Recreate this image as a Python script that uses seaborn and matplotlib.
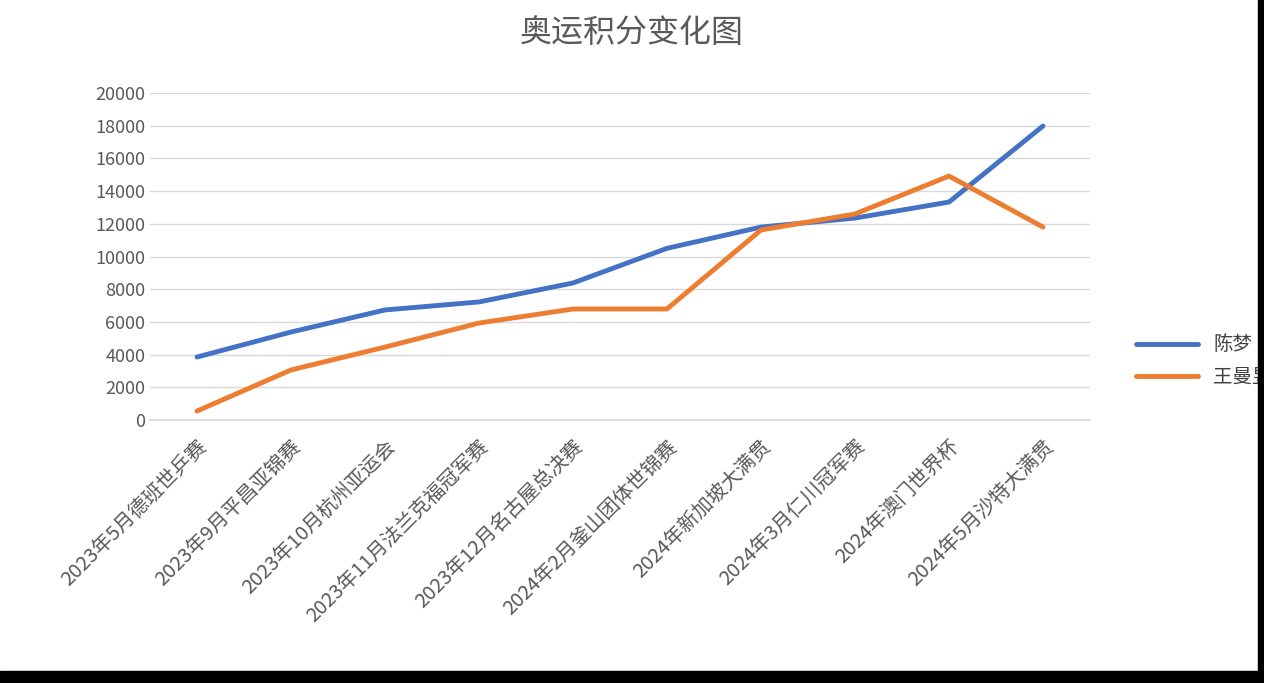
import matplotlib
matplotlib.use("Agg")
import matplotlib.pyplot as plt
import seaborn as sns
import pandas as pd
from matplotlib.patches import Rectangle

categories = ["2023年5月德班世乒赛", "2023年9月平昌亚锦赛", "2023年10月杭州亚运会", "2023年11月法兰克福冠军赛",
              "2023年12月名古屋总决赛", "2024年2月釜山团体世锦赛", "2024年新加坡大满贯", "2024年3月仁川冠军赛",
              "2024年澳门世界杯", "2024年5月沙特大满贯"]
chen_meng = [3850, 5380, 6730, 7220, 8380, 10500, 11800, 12350, 13330, 17980]
wang_manyu = [550, 3060, 4460, 5930, 6790, 6790, 11620, 12600, 14920, 11800]
yticks = list(range(0, 20001, 2000))

sns.set_theme(style="white")
plt.rcParams['font.family'] = ['Noto Sans CJK SC', 'DejaVu Sans']

df = pd.DataFrame({"x": list(range(len(categories))) * 2,
                   "v": chen_meng + wang_manyu,
                   "s": ["陈梦"] * len(categories) + ["王曼昱"] * len(categories)})

fig = plt.figure(figsize=(12.64, 6.83), dpi=100)
ax = fig.add_axes([150/1264, 1-420/683, 940/1264, 327/683])
sns.lineplot(data=df, x="x", y="v", hue="s", palette=["#4472C4", "#ED7D31"], linewidth=3.5, ax=ax)
ax.set_xlim(-0.5, len(categories) - 0.5)
ax.set_ylim(0, 20000)
ax.set_yticks(yticks)
ax.set_yticklabels([str(t) for t in yticks], fontsize=13, color="#595959")
ax.set_xticks(range(len(categories)))
ax.set_xticklabels(categories, rotation=45, ha="right", rotation_mode="anchor", fontsize=14.5, color="#595959")
ax.tick_params(axis="x", pad=12)
ax.grid(axis="y", color="#D9D9D9", linewidth=1)
for s in ["top", "right", "left"]:
    ax.spines[s].set_visible(False)
ax.spines["bottom"].set_color("#D9D9D9")
ax.tick_params(axis="both", length=0)
ax.set_xlabel(""); ax.set_ylabel("")
ax.legend(loc="center left", bbox_to_anchor=(1.03, 0.18), frameon=False, fontsize=14, handlelength=3.2,
          labelcolor="#404040", labelspacing=0.6)
for l in ax.get_legend().get_lines():
    l.set_linewidth(3.5)
fig.text(0.5, 1-33/683, "奥运积分变化图", ha="center", va="center", fontsize=23, color="#595959")
fig.patches.append(Rectangle((0, 0), 1, 12/683, transform=fig.transFigure, color="black", zorder=10))
fig.patches.append(Rectangle((1-6/1264, 0), 6/1264, 1, transform=fig.transFigure, color="black", zorder=10))
fig.savefig("out.png", dpi=100)
